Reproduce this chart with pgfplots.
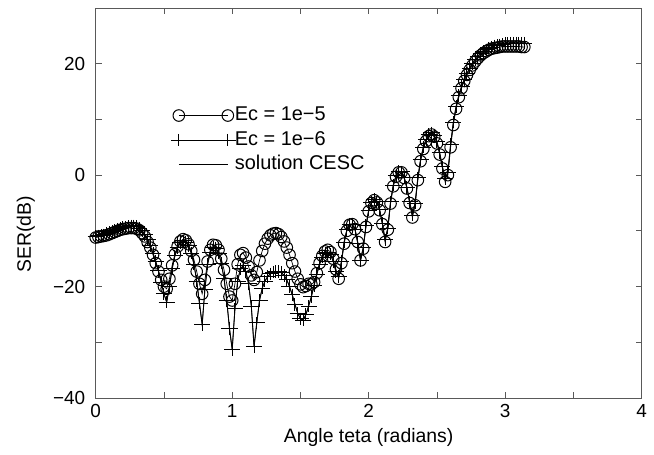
\documentclass[border=0pt]{standalone}
\usepackage{fontspec}
\setmainfont{Liberation Sans}
\usepackage{pgfplots}
\usepackage{pgfplotstable}
\pgfplotsset{compat=1.18}

% x, Ec=1e-5 (c), Ec=1e-6 / CESC (p)
\pgfplotstableread[row sep=\\]{
x c p\\
0.00 -11.2 -11.0\\ 0.02 -11.1 -10.9\\ 0.04 -11.0 -10.8\\ 0.06 -10.9 -10.7\\
0.08 -10.8 -10.5\\ 0.10 -10.6 -10.3\\ 0.12 -10.4 -10.1\\ 0.14 -10.2 -9.9\\
0.16 -10.0 -9.7\\ 0.18 -9.8 -9.5\\ 0.20 -9.7 -9.4\\ 0.22 -9.6 -9.3\\
0.24 -9.5 -9.2\\ 0.26 -9.5 -9.1\\ 0.28 -9.5 -9.1\\ 0.30 -9.6 -9.2\\
0.32 -9.9 -9.5\\ 0.34 -10.4 -10.0\\ 0.36 -11.0 -10.7\\ 0.38 -12.0 -11.6\\
0.40 -13.0 -12.7\\ 0.42 -14.3 -14.0\\ 0.44 -15.8 -15.5\\ 0.46 -17.3 -17.2\\
0.48 -18.8 -19.2\\ 0.50 -20.0 -21.3\\ 0.52 -20.4 -22.8\\ 0.54 -18.6 -20.0\\
0.56 -16.2 -16.8\\ 0.58 -14.2 -14.5\\ 0.60 -12.8 -13.0\\ 0.62 -11.9 -12.1\\
0.64 -11.5 -11.8\\ 0.66 -11.7 -12.0\\ 0.68 -12.4 -12.7\\ 0.70 -13.6 -14.0\\
0.72 -15.2 -16.0\\ 0.74 -17.3 -19.0\\ 0.76 -19.5 -23.0\\ 0.78 -21.3 -26.8\\
0.80 -18.8 -20.5\\ 0.82 -15.5 -16.0\\ 0.84 -13.4 -13.8\\ 0.86 -12.5 -13.0\\
0.88 -12.6 -13.1\\ 0.90 -13.4 -14.0\\ 0.92 -15.0 -15.8\\ 0.94 -17.0 -18.5\\
0.96 -19.5 -22.5\\ 0.98 -21.8 -27.5\\ 1.00 -22.5 -31.3\\ 1.02 -19.5 -24.0\\
1.04 -16.0 -19.0\\ 1.06 -14.3 -16.8\\ 1.08 -14.0 -16.3\\ 1.10 -14.8 -17.3\\
1.12 -16.4 -19.5\\ 1.14 -18.0 -23.5\\ 1.16 -18.8 -30.8\\ 1.18 -17.4 -26.5\\
1.20 -15.3 -22.5\\ 1.22 -13.6 -20.3\\ 1.24 -12.3 -19.0\\ 1.26 -11.4 -18.2\\
1.28 -10.8 -17.7\\ 1.30 -10.5 -17.4\\ 1.32 -10.4 -17.3\\ 1.34 -10.6 -17.3\\
1.36 -11.1 -17.5\\ 1.38 -11.9 -18.0\\ 1.40 -13.0 -18.8\\ 1.42 -14.3 -20.0\\
1.44 -15.8 -21.5\\ 1.46 -17.3 -23.2\\ 1.48 -18.6 -24.8\\ 1.50 -19.6 -25.8\\
1.52 -20.1 -26.0\\ 1.54 -19.9 -25.0\\ 1.56 -19.5 -23.5\\ 1.58 -19.6 -21.8\\
1.60 -19.2 -19.8\\ 1.62 -17.6 -17.8\\ 1.64 -15.8 -16.0\\ 1.66 -14.5 -14.7\\
1.68 -13.7 -14.0\\ 1.70 -13.4 -13.8\\ 1.72 -13.8 -14.2\\ 1.74 -15.0 -15.5\\
1.76 -16.9 -17.3\\ 1.78 -18.6 -18.2\\ 1.80 -15.8 -15.5\\ 1.82 -12.3 -12.0\\
1.84 -10.0 -9.8\\ 1.86 -8.9 -8.8\\ 1.88 -8.8 -8.8\\ 1.90 -9.7 -9.8\\
1.92 -12.0 -12.2\\ 1.94 -15.3 -15.3\\ 1.96 -13.2 -13.0\\ 1.98 -9.3 -9.0\\
2.00 -6.5 -6.3\\ 2.02 -5.0 -4.9\\ 2.04 -4.5 -4.4\\ 2.06 -4.9 -4.8\\
2.08 -6.3 -6.2\\ 2.10 -8.8 -8.6\\ 2.12 -12.0 -11.6\\ 2.14 -9.8 -9.5\\
2.16 -5.1 -4.8\\ 2.18 -2.0 -1.8\\ 2.20 -0.3 -0.1\\ 2.22 0.5 0.7\\
2.24 0.5 0.6\\ 2.26 -0.5 -0.4\\ 2.28 -2.4 -2.2\\ 2.30 -5.0 -4.8\\
2.32 -7.6 -7.2\\ 2.34 -5.4 -5.0\\ 2.36 -0.9 -0.5\\ 2.38 2.5 2.8\\
2.40 4.7 5.0\\ 2.42 6.1 6.4\\ 2.44 7.0 7.3\\ 2.46 7.3 7.6\\
2.48 6.9 7.2\\ 2.50 5.7 6.0\\ 2.52 3.7 4.0\\ 2.54 1.2 1.5\\
2.56 -1.2 -0.6\\ 2.58 0.0 0.5\\ 2.60 5.0 5.5\\ 2.62 9.0 9.5\\
2.64 11.9 12.3\\ 2.66 14.0 14.3\\ 2.68 15.6 15.9\\ 2.70 16.9 17.2\\
2.72 18.0 18.3\\ 2.74 18.9 19.2\\ 2.76 19.7 20.0\\ 2.78 20.4 20.7\\
2.80 21.0 21.3\\ 2.82 21.5 21.8\\ 2.84 21.9 22.2\\ 2.86 22.2 22.5\\
2.88 22.5 22.8\\ 2.90 22.7 23.0\\ 2.92 22.8 23.2\\ 2.94 22.9 23.3\\
2.96 23.0 23.4\\ 2.98 23.1 23.5\\ 3.00 23.1 23.6\\ 3.02 23.1 23.6\\
3.04 23.1 23.7\\ 3.06 23.1 23.7\\ 3.08 23.1 23.7\\ 3.10 23.1 23.7\\
3.12 23.0 23.7\\ 3.14 23.0 23.7\\
}\data

\begin{document}
\begin{tikzpicture}
\path[use as bounding box] (-95.7bp,-57bp) rectangle (558.3bp,398bp);
\begin{axis}[
  at={(0,0)}, anchor=south west,
  scale only axis, width=546bp, height=390bp,
  xmin=0, xmax=4, ymin=-40, ymax=30,
  xtick={0,1,2,3,4}, minor xtick={0.5,1.5,2.5,3.5},
  ytick={-40,-20,0,20}, yticklabels={−40,−20,0,20},
  minor ytick={-30,-10,10},
  tick align=inside, tick pos=both,
  major tick length=6bp, minor tick length=6bp,
  axis line style={black!65, line width=0.8bp},
  every tick/.style={black!65, line width=0.8bp},
  /pgf/number format/assume math mode=true,
  ticklabel style={font=\fontsize{19}{21}\selectfont},
  xticklabel style={yshift=-3bp},
  yticklabel style={xshift=-7bp},
  xlabel={Angle teta (radians)}, ylabel={SER(dB)},
  label style={font=\fontsize{19.5}{22}\selectfont},
  xlabel style={at={(axis description cs:0.5,-0.1)}, anchor=center},
  ylabel style={at={(axis description cs:-0.128,0.42)}, anchor=center},
  legend style={draw=none, fill=none, inner sep=0pt, outer sep=0pt,
    at={(axis cs:0.55,12.9)}, anchor=north west,
    font=\fontsize{20}{22}\selectfont, legend cell align=left,
    nodes={text height=15bp, text depth=4.5bp, inner ysep=2.5bp, inner xsep=1bp},
    /tikz/every odd column/.append style={column sep=-2bp}},
  legend image code/.code={\draw[#1] plot coordinates {(0bp,0bp) (49bp,0bp)};},
]
\addplot[black, line width=0.7bp, mark=o, mark size=5.8bp,
  mark options={line width=1bp}] table[x=x, y=c] {\data};
\addlegendentry{Ec = 1e−5}
\addplot[black, line width=0.7bp, mark=+, mark size=6.2bp,
  mark options={xscale=1.3, line width=1bp}] table[x=x, y=p] {\data};
\addlegendentry{Ec = 1e−6}
\addplot[black, line width=0.9bp, mark=none] table[x=x, y=p] {\data};
\addlegendentry{solution CESC}
\end{axis}
\end{tikzpicture}
\end{document}
